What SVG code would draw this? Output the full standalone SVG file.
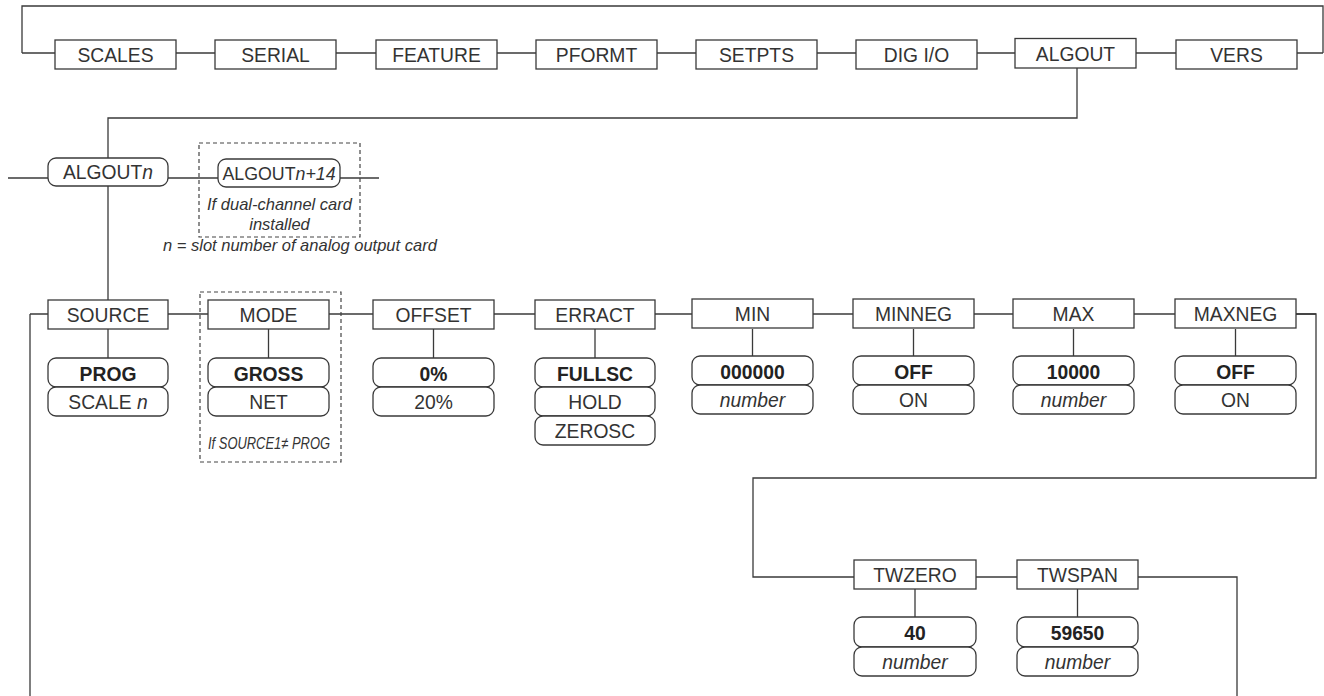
<svg xmlns="http://www.w3.org/2000/svg" width="1324" height="696" viewBox="0 0 1324 696">
<style>
.bx{fill:#fff;stroke:#3a3a3a;stroke-width:1.3}
.vl{fill:#fff;stroke:#3a3a3a;stroke-width:1.3}
.ln{fill:none;stroke:#3a3a3a;stroke-width:1.3}
.dsh{fill:none;stroke:#444;stroke-width:1.2;stroke-dasharray:4 3}
text{font-family:"Liberation Sans",Arial,Helvetica,sans-serif;font-size:19.3px;fill:#333;text-anchor:middle}
.b{font-weight:bold;fill:#222}
.i{font-style:italic}
.note{font-size:16.5px;font-style:italic}
</style>
<rect width="1324" height="696" fill="#fff"/>
<g id="connectors">
<polyline class="ln" points="22,53 22,6 1323,6 1323,53"/>
<line class="ln" x1="22" y1="53" x2="1323" y2="53"/>
<polyline class="ln" points="1077,68 1077,118 108,118 108,300"/>
<line class="ln" x1="8" y1="178" x2="379" y2="178"/>
<line class="ln" x1="30" y1="314" x2="1316" y2="314"/>
<line class="ln" x1="30" y1="314" x2="30" y2="696"/>
<polyline class="ln" points="1296,314 1316,314 1316,478 753,478 753,577 854,577"/>
<line class="ln" x1="976" y1="577" x2="1017" y2="577"/>
<polyline class="ln" points="1138,577 1237,577 1237,696"/>
<g>
<line class="ln" x1="108" y1="329" x2="108" y2="358"/>
<line class="ln" x1="268.5" y1="329" x2="268.5" y2="358"/>
<line class="ln" x1="433.5" y1="329" x2="433.5" y2="358"/>
<line class="ln" x1="595" y1="329" x2="595" y2="358"/>
<line class="ln" x1="752.5" y1="329" x2="752.5" y2="358"/>
<line class="ln" x1="913.5" y1="329" x2="913.5" y2="358"/>
<line class="ln" x1="1073.5" y1="329" x2="1073.5" y2="358"/>
<line class="ln" x1="1235.5" y1="329" x2="1235.5" y2="358"/>
<line class="ln" x1="915" y1="589" x2="915" y2="617"/>
<line class="ln" x1="1077.5" y1="589" x2="1077.5" y2="617"/>
</g>
</g>
<g id="n-scales"><rect class="bx" x="55" y="40" width="121" height="29"/><text x="115.5" y="62">SCALES</text></g>
<g id="n-serial"><rect class="bx" x="215" y="40" width="121" height="29"/><text x="275.5" y="62">SERIAL</text></g>
<g id="n-feature"><rect class="bx" x="376" y="40" width="121" height="29"/><text x="436.5" y="62">FEATURE</text></g>
<g id="n-pformt"><rect class="bx" x="536" y="40" width="121" height="29"/><text x="596.5" y="62">PFORMT</text></g>
<g id="n-setpts"><rect class="bx" x="696" y="40" width="121" height="29"/><text x="756.5" y="62">SETPTS</text></g>
<g id="n-digio"><rect class="bx" x="856" y="40" width="121" height="29"/><text x="916.5" y="62">DIG I/O</text></g>
<g id="n-algout"><rect class="bx" x="1015" y="38.5" width="121" height="29.5"/><text x="1075.5" y="60.5">ALGOUT</text></g>
<g id="n-vers"><rect class="bx" x="1176" y="40" width="121" height="29"/><text x="1236.5" y="62">VERS</text></g>

<g id="n-algoutn"><rect class="vl" x="48" y="158" width="120" height="28" rx="8"/><text x="108" y="179">ALGOUT<tspan class="i">n</tspan></text></g>
<g id="n-algoutn14">
<rect class="dsh" x="199" y="143" width="161" height="94"/>
<rect class="vl" x="218" y="159" width="122" height="28" rx="8"/>
<text x="279" y="180" style="font-size:17.8px">ALGOUT<tspan class="i">n+14</tspan></text>
<text class="note" x="279.5" y="210">If dual-channel card</text>
<text class="note" x="279.5" y="230">installed</text>
</g>
<text id="n-note" class="note" x="163" y="251" style="text-anchor:start">n = slot number of analog output card</text>

<g id="n-source"><rect class="bx" x="48" y="300" width="120" height="29"/><text x="108" y="322">SOURCE</text>
<rect class="vl" x="48" y="358" width="120" height="29" rx="8"/><text class="b" x="108" y="381">PROG</text>
<rect class="vl" x="48" y="387" width="120" height="29" rx="8"/><text x="108" y="409">SCALE <tspan class="i">n</tspan></text></g>

<g id="n-mode"><rect class="dsh" x="200" y="292" width="141" height="170"/>
<rect class="bx" x="208" y="300" width="121" height="29"/><text x="268.5" y="322">MODE</text>
<rect class="vl" x="208" y="358" width="121" height="29" rx="8"/><text class="b" x="268.5" y="381">GROSS</text>
<rect class="vl" x="208" y="387" width="121" height="29" rx="8"/><text x="268.5" y="409">NET</text>
<text class="i" x="269" y="449" style="font-size:17px" textLength="122" lengthAdjust="spacingAndGlyphs">If SOURCE1≠ PROG</text></g>

<g id="n-offset"><rect class="bx" x="373" y="300" width="121" height="29"/><text x="433.5" y="322">OFFSET</text>
<rect class="vl" x="373" y="358" width="121" height="29" rx="8"/><text class="b" x="433.5" y="381">0%</text>
<rect class="vl" x="373" y="387" width="121" height="29" rx="8"/><text x="433.5" y="409">20%</text></g>

<g id="n-erract"><rect class="bx" x="535" y="300" width="120" height="29"/><text x="595" y="322">ERRACT</text>
<rect class="vl" x="535" y="358" width="120" height="29" rx="8"/><text class="b" x="595" y="381">FULLSC</text>
<rect class="vl" x="535" y="387" width="120" height="29" rx="8"/><text x="595" y="409">HOLD</text>
<rect class="vl" x="535" y="416" width="120" height="29" rx="8"/><text x="595" y="438">ZEROSC</text></g>

<g id="n-min"><rect class="bx" x="692" y="299" width="121" height="29"/><text x="752.5" y="321">MIN</text>
<rect class="vl" x="692" y="356" width="121" height="29" rx="8"/><text class="b" x="752.5" y="379">000000</text>
<rect class="vl" x="692" y="385" width="121" height="29" rx="8"/><text class="i" x="752.5" y="407">number</text></g>

<g id="n-minneg"><rect class="bx" x="853" y="299" width="121" height="29"/><text x="913.5" y="321">MINNEG</text>
<rect class="vl" x="853" y="356" width="121" height="29" rx="8"/><text class="b" x="913.5" y="379">OFF</text>
<rect class="vl" x="853" y="385" width="121" height="29" rx="8"/><text x="913.5" y="407">ON</text></g>

<g id="n-max"><rect class="bx" x="1013" y="299" width="121" height="29"/><text x="1073.5" y="321">MAX</text>
<rect class="vl" x="1013" y="356" width="121" height="29" rx="8"/><text class="b" x="1073.5" y="379">10000</text>
<rect class="vl" x="1013" y="385" width="121" height="29" rx="8"/><text class="i" x="1073.5" y="407">number</text></g>

<g id="n-maxneg"><rect class="bx" x="1175" y="299" width="121" height="29"/><text x="1235.5" y="321">MAXNEG</text>
<rect class="vl" x="1175" y="356" width="121" height="29" rx="8"/><text class="b" x="1235.5" y="379">OFF</text>
<rect class="vl" x="1175" y="385" width="121" height="29" rx="8"/><text x="1235.5" y="407">ON</text></g>

<g id="n-twzero"><rect class="bx" x="854" y="560" width="122" height="29"/><text x="915" y="582">TWZERO</text>
<rect class="vl" x="854" y="617" width="122" height="30" rx="8"/><text class="b" x="915" y="640">40</text>
<rect class="vl" x="854" y="647" width="122" height="29" rx="8"/><text class="i" x="915" y="669">number</text></g>

<g id="n-twspan"><rect class="bx" x="1017" y="560" width="121" height="29"/><text x="1077.5" y="582">TWSPAN</text>
<rect class="vl" x="1017" y="617" width="121" height="30" rx="8"/><text class="b" x="1077.5" y="640">59650</text>
<rect class="vl" x="1017" y="647" width="121" height="29" rx="8"/><text class="i" x="1077.5" y="669">number</text></g>
</svg>
